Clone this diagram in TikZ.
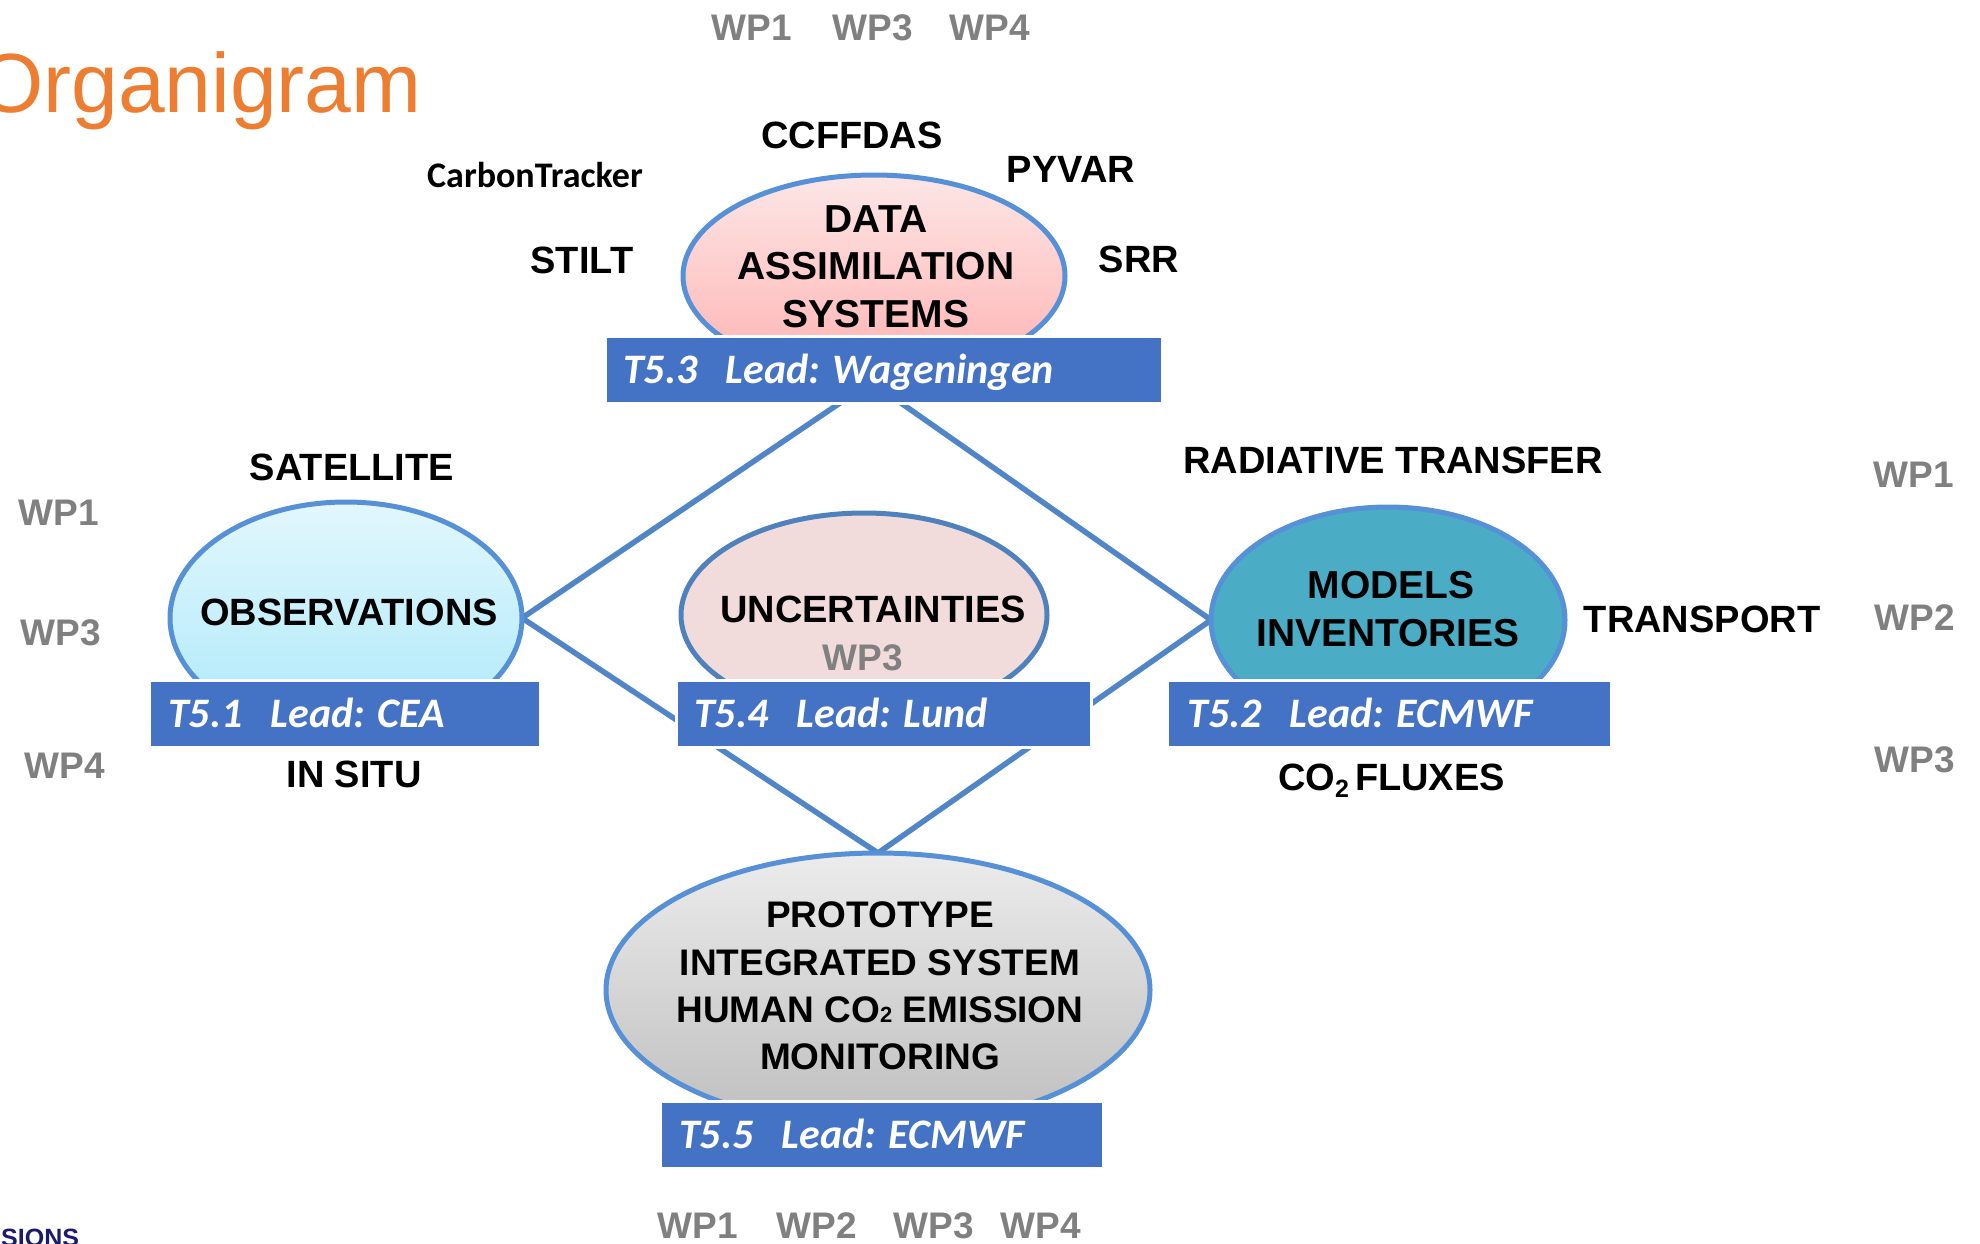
\documentclass[tikz,border=0pt]{standalone}
\usepackage{fontspec}
\setmainfont{Liberation Sans}
\newfontfamily\carlito{Carlito}
\usetikzlibrary{shapes.geometric}
\definecolor{orgorange}{RGB}{237,125,49}
\definecolor{wpgray}{RGB}{128,128,128}
\definecolor{boxblue}{RGB}{68,114,196}
\definecolor{rimblue}{RGB}{86,144,214}
\definecolor{linkblue}{RGB}{80,134,200}
\definecolor{footnavy}{RGB}{27,27,110}
\definecolor{teal}{RGB}{75,172,198}
\definecolor{uncpink}{RGB}{242,220,219}
\pgfdeclarelayer{bg}
\pgfsetlayers{bg,main}
\tikzset{
  lbl/.style={font=\fontsize{38}{47}\selectfont\bfseries, text=black, inner sep=0pt, anchor=base},
  lblb/.style={lbl, font=\fontsize{39}{47}\selectfont\bfseries},
  wp/.style={font=\fontsize{37}{44}\selectfont\bfseries, text=wpgray, inner sep=0pt, anchor=base},
  blob/.style={ellipse, draw=rimblue, line width=5pt, inner sep=0pt, outer sep=0pt},
  taskbox/.style={rectangle, fill=boxblue, draw=white, line width=3pt, inner sep=0pt, outer sep=0pt, anchor=north west},
  tasktxt/.style={font=\carlito\fontsize{42}{50}\selectfont\bfseries\itshape, text=white, inner sep=0pt, anchor=base west},
  link/.style={draw=linkblue, line width=5.5pt, line join=round},
}
\begin{document}
\begin{tikzpicture}[x=1pt, y=-1pt]
\useasboundingbox (0,0) rectangle (1980,1243);
\clip (0,0) rectangle (1980,1243);

% title
\node[font=\fontsize{84}{90}\selectfont, text=orgorange, anchor=base west, inner sep=0pt] (title) at (-22,112) {Organigram};

% ellipses
\node[blob, minimum width=382pt, minimum height=202pt, top color={rgb,255:red,253;green,230;blue,230}, bottom color={rgb,255:red,255;green,178;blue,178}] (das) at (874,276) {};
\node[blob, minimum width=352pt, minimum height=232pt, top color={rgb,255:red,226;green,247;blue,253}, bottom color={rgb,255:red,172;green,233;blue,250}] (obs) at (346,618) {};
\node[blob, minimum width=366pt, minimum height=204pt, fill=uncpink, draw={rgb,255:red,79;green,129;blue,189}] (unc) at (864,615) {};
\node[blob, minimum width=354pt, minimum height=226pt, fill=teal] (mod) at (1388,620) {};
\node[blob, minimum width=544pt, minimum height=274pt, top color={rgb,255:red,236;green,236;blue,236}, bottom color={rgb,255:red,190;green,190;blue,190}] (prot) at (878,990) {};

% connectors
\coordinate (top) at (871,382);
\begin{pgfonlayer}{bg}
\draw[link] (obs.east) -- (top) -- (mod.west);
\draw[link] (obs.east) -- (prot.north) -- (mod.west);
\end{pgfonlayer}

% task boxes
\node[taskbox, minimum width=557pt, minimum height=67pt] (t53) at (605,336) {};
\node[taskbox, minimum width=391pt, minimum height=67pt] (t51) at (149,680) {};
\node[taskbox, minimum width=415pt, minimum height=67pt] (t54) at (676,680) {};
\node[taskbox, minimum width=444pt, minimum height=67pt] (t52) at (1167,680) {};
\node[taskbox, minimum width=443pt, minimum height=67pt] (t55) at (660,1101) {};

\node[tasktxt] (t53t) at (623,383) {T5.3\hspace{28pt}Lead: Wageningen};
\node[tasktxt] (t51t) at (168,727) {T5.1\hspace{28pt}Lead: CEA};
\node[tasktxt] (t54t) at (694,727) {T5.4\hspace{28pt}Lead: Lund};
\node[tasktxt] (t52t) at (1187,727) {T5.2\hspace{28pt}Lead: ECMWF};
\node[tasktxt] (t55t) at (679,1148) {T5.5\hspace{28pt}Lead: ECMWF};

% ellipse texts
\node[lblb] (das1) at (876,232) {DATA};
\node[lblb] (das2) at (876,279) {ASSIMILATION};
\node[lblb] (das3) at (876,327) {SYSTEMS};
\node[lbl] (obst) at (349,625) {OBSERVATIONS};
\node[lbl] (unct) at (873,622) {UNCERTAINTIES};
\node[wp] (uncwp) at (863,670) {WP3};
\node[lblb] (mod1) at (1391,598) {MODELS};
\node[lblb] (mod2) at (1388,646) {INVENTORIES};
\node[lbl, font=\fontsize{37}{47}\selectfont\bfseries] (prot1) at (880,927) {PROTOTYPE};
\node[lbl, font=\fontsize{37}{47}\selectfont\bfseries] (prot2) at (880,975) {INTEGRATED SYSTEM};
\node[lbl, font=\fontsize{37}{47}\selectfont\bfseries] (prot3) at (880,1022) {HUMAN CO{\fontsize{22}{22}\selectfont 2} EMISSION};
\node[lbl, font=\fontsize{37}{47}\selectfont\bfseries] (prot4) at (880,1069) {MONITORING};

% surrounding labels
\node[lbl] (ccffdas) at (852,148) {CCFFDAS};
\node[font=\carlito\fontsize{36}{40}\selectfont\bfseries, inner sep=0pt, anchor=base] (ct) at (535,187) {CarbonTracker};
\node[lbl] (pyvar) at (1071,182) {PYVAR};
\node[lbl] (stilt) at (582,273) {STILT};
\node[lbl] (srr) at (1139,272) {SRR};
\node[lbl] (sat) at (352,480) {SATELLITE};
\node[lbl] (insitu) at (354,787) {IN SITU};
\node[lbl] (rad) at (1393,473) {RADIATIVE TRANSFER};
\node[lbl] (transp) at (1702,632) {TRANSPORT};
\node[lbl, anchor=base west] (co2) at (1278,790) {CO\raisebox{-7pt}{\fontsize{25}{25}\selectfont 2}\hspace{6pt}FLUXES};

% WP labels
\node[wp] (tw1) at (752,40) {WP1};
\node[wp] (tw3) at (873,40) {WP3};
\node[wp] (tw4) at (990,40) {WP4};
\node[wp] (lw1) at (59,525) {WP1};
\node[wp] (lw3) at (61,645) {WP3};
\node[wp] (lw4) at (65,778) {WP4};
\node[wp] (rw1) at (1914,487) {WP1};
\node[wp] (rw2) at (1915,630) {WP2};
\node[wp] (rw3) at (1915,772) {WP3};
\node[wp] (bw1) at (698,1238) {WP1};
\node[wp] (bw2) at (817,1238) {WP2};
\node[wp] (bw3) at (934,1238) {WP3};
\node[wp] (bw4) at (1041,1238) {WP4};

% footer fragment
\node[font=\fontsize{25}{30}\selectfont\bfseries, text=footnavy, anchor=base west, inner sep=0pt] (footer) at (1,1246) {SIONS};
\end{tikzpicture}
\end{document}
